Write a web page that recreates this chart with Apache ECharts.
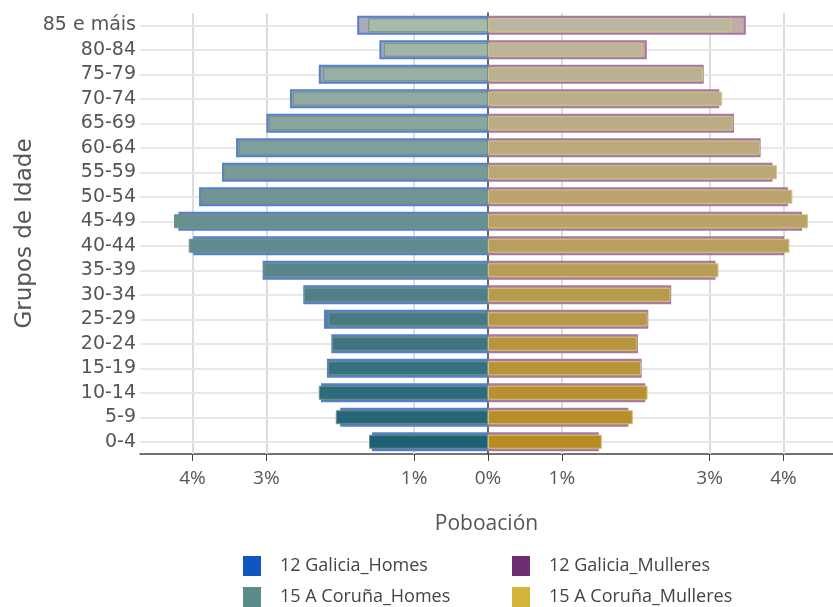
<!DOCTYPE html>
<html>
<head>
<meta charset="utf-8">
<script src="https://cdn.jsdelivr.net/npm/echarts@6.0.0/dist/echarts.min.js"></script>
<style>
	html, body { margin: 0; padding: 0; background: #fff; }
	#chart { width: 833px; height: 607px; }
</style>
</head>
<body>
<div id="chart"></div>
<script>
// grupos de idade, de abaixo arriba
var ageGroups = ['0-4', '5-9', '10-14', '15-19', '20-24', '25-29', '30-34', '35-39', '40-44',
	'45-49', '50-54', '55-59', '60-64', '65-69', '70-74', '75-79', '80-84', '85 e máis'];

// % da poboación
var galiciaHomes = [1.57, 2.00, 2.26, 2.18, 2.12, 2.22, 2.50, 3.05, 3.99, 4.19, 3.91, 3.60, 3.41, 3.00, 2.68, 2.29, 1.47, 1.77];
var corunaHomes = [1.61, 2.06, 2.29, 2.17, 2.11, 2.16, 2.49, 3.04, 4.05, 4.25, 3.89, 3.58, 3.37, 2.96, 2.64, 2.23, 1.41, 1.62];
var galiciaMulleres = [1.50, 1.90, 2.13, 2.08, 2.03, 2.17, 2.48, 3.08, 4.01, 4.25, 4.06, 3.85, 3.69, 3.33, 3.13, 2.92, 2.15, 3.49];
var corunaMulleres = [1.54, 1.96, 2.16, 2.07, 2.02, 2.16, 2.47, 3.12, 4.08, 4.33, 4.12, 3.91, 3.68, 3.32, 3.17, 2.91, 2.09, 3.30];

// marcas do eixo X
var tickValues = [-4, -3, -1, 0, 1, 3, 4];
var gridValues = [-4, -3, -1, 1, 3, 4];

var seriesNames = ['12 Galicia_Homes', '12 Galicia_Mulleres', '15 A Coruña_Homes', '15 A Coruña_Mulleres'];

function hex(c) {
	return [parseInt(c.substr(1, 2), 16), parseInt(c.substr(3, 2), 16), parseInt(c.substr(5, 2), 16)];
}
// cor segundo a idade (abaixo escuro, arriba claro)
function mix(bottom, top, i) {
	var a = hex(bottom), b = hex(top), t = i / (ageGroups.length - 1);
	return 'rgb(' + [0, 1, 2].map(function(k) {
		return Math.round(a[k] + (b[k] - a[k]) * t);
	}).join(',') + ')';
}

function build(vals, sign, bottom, top) {
	return vals.map(function(v, i) {
		return {
			value: sign * v,
			itemStyle: { color: mix(bottom, top, i) }
		};
	});
}

function legendBox(left, names, colors) {
	return {
		orient: 'vertical',
		left: left,
		top: 556,
		padding: 0,
		icon: 'rect',
		itemWidth: 18,
		itemHeight: 20,
		itemGap: 11,
		textStyle: { fontFamily: 'Open Sans', fontSize: 18, color: '#444', padding: [0, 0, 0, 14] },
		data: names.map(function(n, i) {
			return { name: n, itemStyle: { color: colors[i], borderWidth: 0 } };
		})
	};
}

var chart = echarts.init(document.getElementById('chart'));

var option = {
	animation: false,
	grid: {
		left: 140,
		right: 0,
		top: 13,
		bottom: 153
	},
	legend: [
		legendBox(243, [seriesNames[0], seriesNames[2]], ['#0f56c0', '#5b8c8a']),
		legendBox(512, [seriesNames[1], seriesNames[3]], ['#6e2f72', '#d3b43a'])
	],
	xAxis: {
		type: 'value',
		min: -4.71,
		max: 4.67,
		name: 'Poboación',
		nameLocation: 'middle',
		nameGap: 60,
		nameTextStyle: { fontFamily: 'Open Sans', fontSize: 21, color: '#555' },
		axisLine: { show: true, lineStyle: { color: '#444', width: 1.5 } },
		axisTick: { show: true, length: 7, customValues: tickValues, lineStyle: { color: '#444' } },
		axisLabel: {
			customValues: tickValues,
			fontFamily: 'Open Sans',
			fontSize: 19,
			color: '#555',
			margin: 15,
			formatter: function(v) {
				return Math.abs(v) + '%';
			}
		},
		splitLine: { show: false }
	},
	yAxis: [{
		type: 'category',
		data: ageGroups,
		name: 'Grupos de Idade',
		nameLocation: 'middle',
		nameGap: 103,
		nameMoveOverlap: false,
		nameTextStyle: { fontFamily: 'DejaVu Sans', fontSize: 23, color: '#555' },
		axisLine: { show: false, onZero: false },
		axisTick: { show: false },
		axisLabel: { interval: 0, fontFamily: 'DejaVu Sans', fontSize: 19, color: '#555', margin: 4 },
		splitLine: { show: false }
	}, {
		type: 'category',
		data: ageGroups,
		position: 'left',
		axisLine: { show: true, onZero: true, lineStyle: { color: '#2a3550', width: 1.5 } },
		axisTick: { show: false },
		axisLabel: { show: false },
		splitLine: { show: false }
	}],
	series: [{
		// liñas de reixa
		type: 'line',
		data: [],
		z: 1,
		silent: true,
		markLine: {
			z: 1,
			silent: true,
			symbol: 'none',
			label: { show: false },
			animation: false,
			data: gridValues.map(function(v) {
				return { xAxis: v, lineStyle: { color: '#dcdcdc', width: 2, type: 'solid' } };
			}).concat(ageGroups.map(function(g) {
				return { yAxis: g, lineStyle: { color: '#e8e8e8', width: 2, type: 'solid' } };
			}))
		}
	}, {
		name: seriesNames[0],
		type: 'bar',
		yAxisIndex: 0,
		stack: 'galicia',
		barWidth: 19,
		z: 3,
		itemStyle: { color: '#0f56c0', borderColor: '#5580cc', borderWidth: 2 },
		data: build(galiciaHomes, -1, '#3a6f9a', '#aaaabd')
	}, {
		name: seriesNames[1],
		type: 'bar',
		yAxisIndex: 0,
		stack: 'galicia',
		barWidth: 19,
		z: 3,
		itemStyle: { color: '#6e2f72', borderColor: '#a27aa5', borderWidth: 2 },
		data: build(galiciaMulleres, 1, '#b58f4a', '#c2acab')
	}, {
		name: seriesNames[2],
		type: 'bar',
		yAxisIndex: 1,
		stack: 'coruna',
		barWidth: 14,
		z: 4,
		itemStyle: { color: '#5b8c8a', borderColor: '#6f9484', borderWidth: 1 },
		data: build(corunaHomes, -1, '#1f6074', '#a9baab')
	}, {
		name: seriesNames[3],
		type: 'bar',
		yAxisIndex: 1,
		stack: 'coruna',
		barWidth: 14,
		z: 4,
		itemStyle: { color: '#d3b43a', borderColor: '#d6c07a', borderWidth: 1 },
		data: build(corunaMulleres, 1, '#b68b22', '#bbb6a2')
	}]
};

chart.setOption(option);
</script>
</body>
</html>
